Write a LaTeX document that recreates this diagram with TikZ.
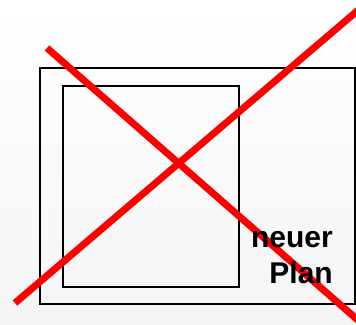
\documentclass[tikz,border=0pt]{standalone}
\usepackage{fontspec}
\setmainfont{Liberation Sans}
\begin{document}
\begin{tikzpicture}[x=1pt,y=-1pt,
  frame/.style={draw=black,line width=1.6pt},
  cross/.style={draw=red,line width=7pt},
  label/.style={font=\fontsize{30}{36}\selectfont\bfseries,inner sep=0pt,anchor=base east}]
\useasboundingbox (0,0) rectangle (356,324);
\clip (0,0) rectangle (356,324);
\shade[top color=white,bottom color=black!4] (0,0) rectangle (356,324);
\draw[frame] (40,68) rectangle (355,304);
\draw[frame] (63,86) rectangle (239,287);
\coordinate (a1) at (47,48);
\coordinate (a2) at (368,329);
\coordinate (b1) at (15,303);
\coordinate (b2) at (370,0);
\draw[cross] (a1) -- (a2);
\draw[cross] (b1) -- (b2);
\node[label] (t1) at (333,247) {neuer};
\node[label] (t2) at (333,283) {Plan};
\end{tikzpicture}
\end{document}
